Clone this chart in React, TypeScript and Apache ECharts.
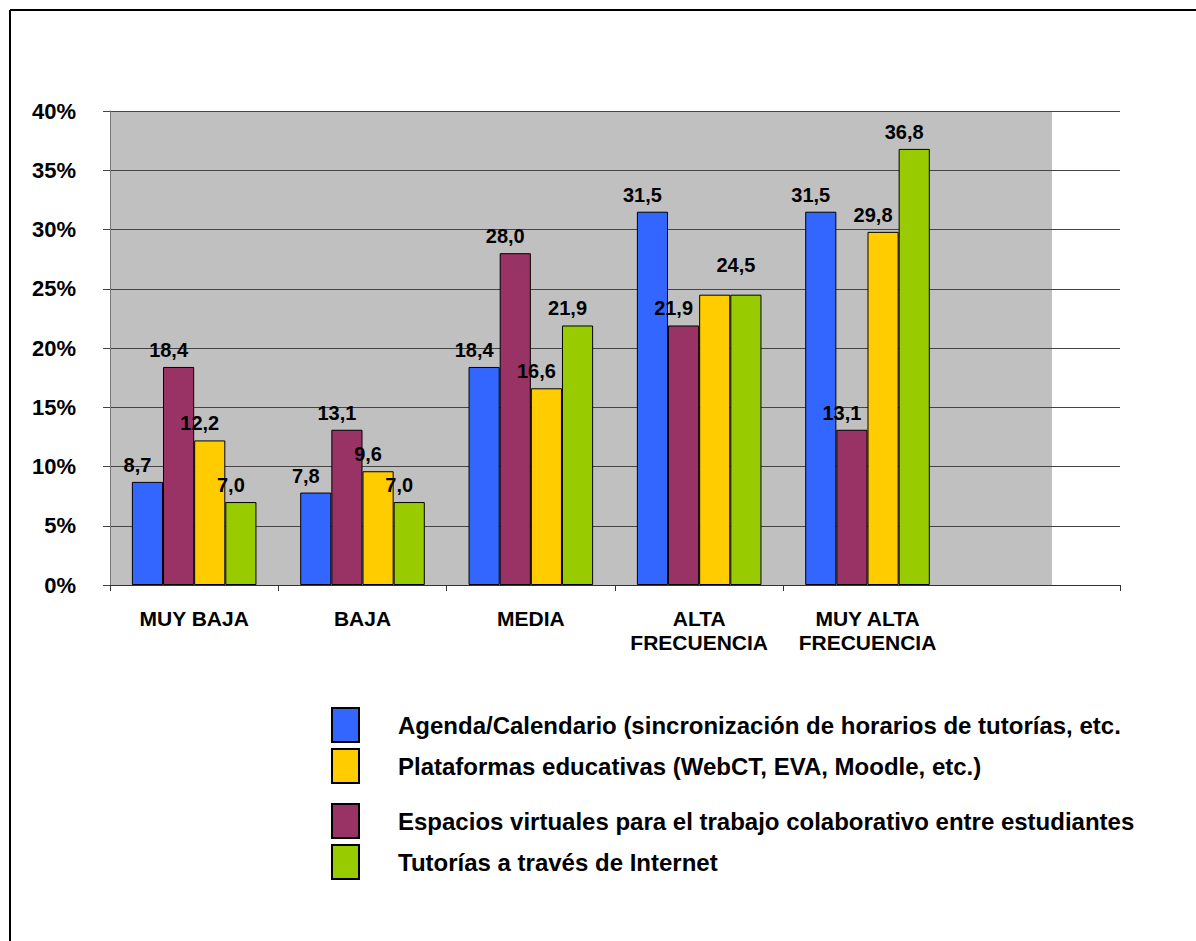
import React, { useEffect, useRef } from "react";
import * as echarts from "echarts";

const categories = ["MUY BAJA", "BAJA", "MEDIA", "ALTA\nFRECUENCIA", "MUY ALTA\nFRECUENCIA", ""];
const agenda = [8.7, 7.8, 18.4, 31.5, 31.5];
const espacios = [18.4, 13.1, 28.0, 21.9, 13.1];
const plataformas = [12.2, 9.6, 16.6, 24.5, 29.8];
const tutorias = [7.0, 7.0, 21.9, 24.5, 36.8];
const yTicks = [0, 5, 10, 15, 20, 25, 30, 35, 40];

const names = {
  agenda: "Agenda/Calendario (sincronización de horarios de tutorías, etc.",
  plataformas: "Plataformas educativas (WebCT, EVA, Moodle, etc.)",
  espacios: "Espacios virtuales para el trabajo colaborativo entre estudiantes",
  tutorias: "Tutorías a través de Internet",
};

const FONT = "'Liberation Sans', Arial, sans-serif";

export default function App() {
  const ref = useRef<HTMLDivElement>(null);
  useEffect(() => {
    document.body.style.margin = "0";
    const chart = echarts.init(ref.current!, undefined, { renderer: "svg" });
    const labelBase = {
      show: true,
      position: "top",
      distance: 7,
      offset: [-10, 0],
      color: "#000",
      fontFamily: FONT,
      fontWeight: "bold",
      fontSize: 20,
      formatter: (p: any) => Number(p.value).toFixed(1).replace(".", ","),
    };
    const mkSeries = (name: string, data: any[], color: string) => ({
      name,
      type: "bar",
      xAxisIndex: 1,
      yAxisIndex: 1,
      data,
      barGap: "0%",
      barCategoryGap: "26%",
      itemStyle: { color, borderColor: "#000", borderWidth: 1 },
      label: labelBase,
    });
    // ALTA FRECUENCIA: the two equal 24,5 bars share one label, as in the reference
    const plataformasData = plataformas.map((v, i) => (i === 3 ? { value: v, label: { show: false } } : v));
    const tutoriasData = tutorias.map((v, i) => (i === 3 ? { value: v, label: { offset: [-10, -13] } } : v));
    const legendText = {
      fontFamily: FONT,
      fontWeight: "bold" as const,
      fontSize: 24,
      color: "#000",
      padding: [0, 0, 0, 34],
    };
    chart.setOption({
      animation: false,
      backgroundColor: "#fff",
      grid: [
        { left: 110, right: 144, top: 111, bottom: 356, show: true, backgroundColor: "#C0C0C0", borderWidth: 0 },
        { left: 110, right: 76, top: 111, bottom: 356 },
      ],
      xAxis: [
        { gridIndex: 0, type: "category", data: ["a"], show: false },
        {
          gridIndex: 1,
          type: "category",
          data: categories,
          axisLine: { lineStyle: { color: "#333", width: 1 } },
          axisTick: { show: true, length: 6, interval: (i: number) => i < 5, lineStyle: { color: "#333" } },
          axisLabel: {
            color: "#000",
            fontFamily: FONT,
            fontWeight: "bold",
            fontSize: 21,
            lineHeight: 24,
            margin: 21,
            interval: 0,
          },
        },
      ],
      yAxis: [
        { gridIndex: 0, type: "value", show: false },
        {
          gridIndex: 1,
          type: "value",
          min: yTicks[0],
          max: yTicks[yTicks.length - 1],
          interval: 5,
          axisLine: { show: true, lineStyle: { color: "#777", width: 1 } },
          axisTick: { show: true, length: 7, lineStyle: { color: "#444" } },
          splitLine: { show: true, lineStyle: { color: "#444", width: 1 } },
          axisLabel: {
            color: "#000",
            fontFamily: FONT,
            fontWeight: "bold",
            fontSize: 22,
            margin: 34,
            formatter: (v: number) => `${v}%`,
          },
        },
      ],
      legend: [
        {
          data: [names.agenda, names.plataformas],
          orient: "vertical",
          left: 331,
          top: 707,
          itemWidth: 27,
          itemHeight: 34,
          itemGap: 5,
          icon: "rect",
          selectedMode: false,
          padding: 0,
          textStyle: legendText,
        },
        {
          data: [names.espacios, names.tutorias],
          orient: "vertical",
          left: 331,
          top: 803,
          itemWidth: 27,
          itemHeight: 34,
          itemGap: 5,
          icon: "rect",
          selectedMode: false,
          padding: 0,
          textStyle: legendText,
        },
      ],
      graphic: [
        { type: "line", shape: { x1: 10, y1: 10, x2: 1196, y2: 10 }, style: { stroke: "#000", lineWidth: 2 } },
        { type: "line", shape: { x1: 10, y1: 10, x2: 10, y2: 941 }, style: { stroke: "#000", lineWidth: 2 } },
      ],
      series: [
        mkSeries(names.agenda, agenda, "#3366FF"),
        mkSeries(names.espacios, espacios, "#993366"),
        mkSeries(names.plataformas, plataformasData, "#FFCC00"),
        mkSeries(names.tutorias, tutoriasData, "#99CC00"),
      ],
    });
    return () => chart.dispose();
  }, []);
  return <div ref={ref} style={{ width: 1196, height: 941 }} />;
}
